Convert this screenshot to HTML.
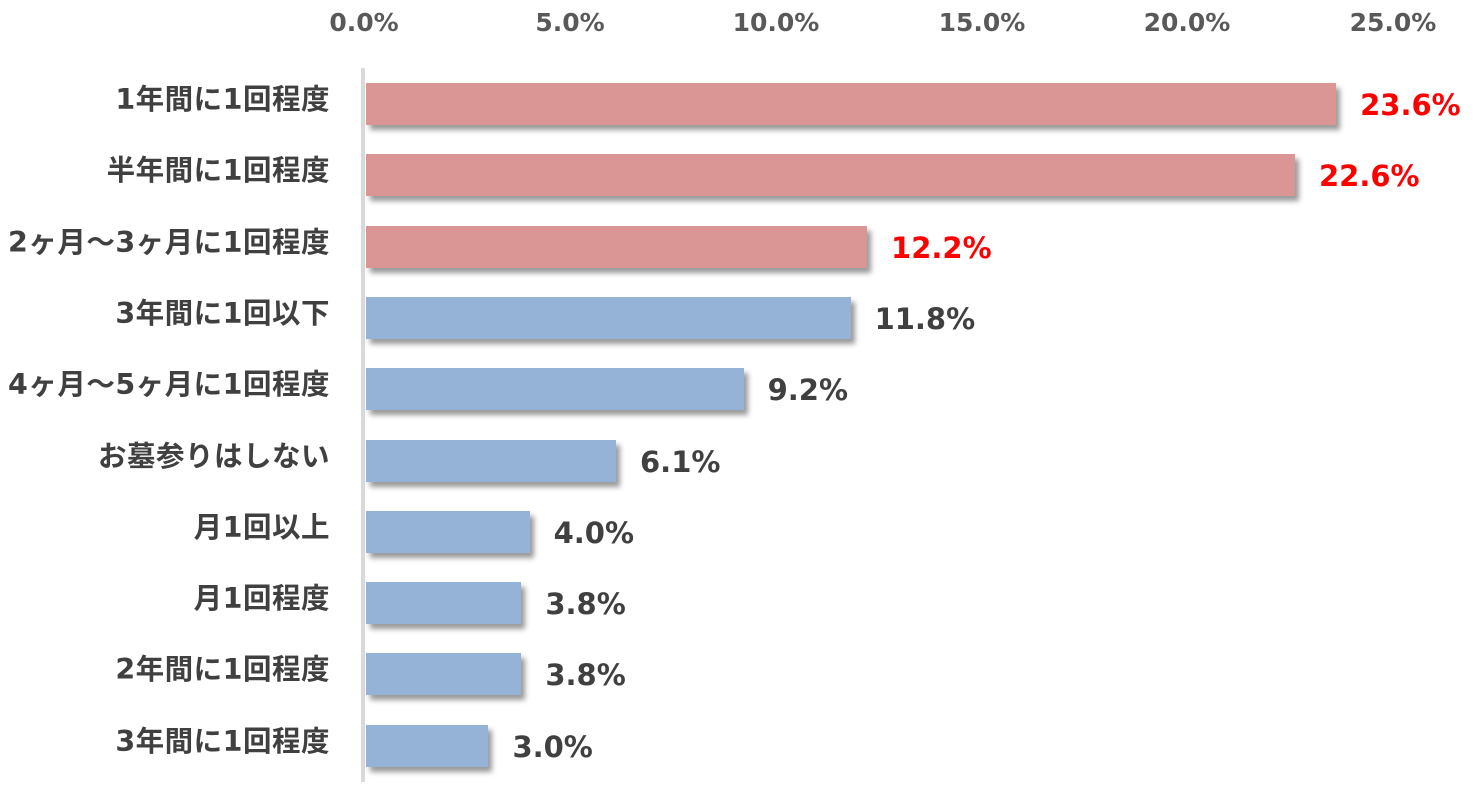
<!DOCTYPE html>
<html><head><meta charset="utf-8"><style>
body{margin:0;width:1480px;height:794px;background:#fff;position:relative;overflow:hidden;font-family:"DejaVu Sans","Noto Sans CJK JP",sans-serif;font-weight:bold}
.t{position:absolute;top:8px;font-size:25px;color:#595959;width:140px;text-align:center}
.l{position:absolute;right:1150px;font-size:28.5px;color:#404040;white-space:nowrap;line-height:42px;letter-spacing:0.5px}
.b{position:absolute;left:366px;height:42px;box-shadow:4px 5px 5px rgba(0,0,0,0.4)}
.v{position:absolute;font-size:29px;color:#404040;line-height:42px}
</style></head><body>
<div style="position:absolute;left:361px;top:68px;width:4px;height:714px;background:#d9d9d9"></div>
<div class="t" style="left:294px">0.0%</div>
<div class="t" style="left:500px">5.0%</div>
<div class="t" style="left:706px">10.0%</div>
<div class="t" style="left:912px">15.0%</div>
<div class="t" style="left:1117px">20.0%</div>
<div class="t" style="left:1323px">25.0%</div>
<div id="c"></div>
<script>
var d=[["1年間に1回程度",23.6,1],["半年間に1回程度",22.6,1],["2ヶ月～3ヶ月に1回程度",12.2,1],["3年間に1回以下",11.8,0],["4ヶ月～5ヶ月に1回程度",9.2,0],["お墓参りはしない",6.1,0],["月1回以上",4.0,0],["月1回程度",3.8,0],["2年間に1回程度",3.8,0],["3年間に1回程度",3.0,0]];
var h="";
d.forEach(function(r,i){var y=83+i*71.3;var w=r[1]*41.15-1;
h+='<div class="l" style="top:'+(y-4)+'px">'+r[0]+'</div>';
h+='<div class="b" style="top:'+y+'px;width:'+w+'px;background:'+(r[2]?'#d99694':'#95b3d7')+'"></div>';
h+='<div class="v" style="top:'+(y+1)+'px;left:'+(366+w+24)+'px;color:'+(r[2]?'#ff0000':'#404040')+'">'+r[1].toFixed(1)+'%</div>';});
document.getElementById("c").innerHTML=h;
</script>
</body></html>
